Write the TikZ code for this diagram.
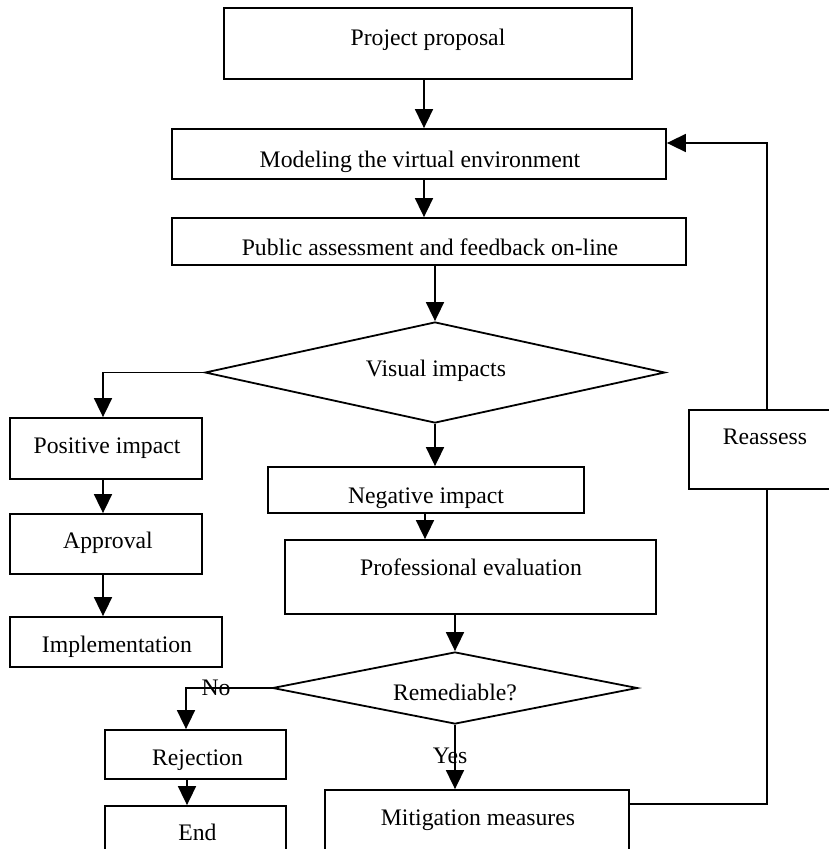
\documentclass[tikz,border=0pt]{standalone}
\usepackage{fontspec}
\setmainfont{Liberation Serif}
\usetikzlibrary{arrows.meta,shapes.geometric}

\begin{document}
\begin{tikzpicture}[
  x=1pt, y=-1pt,
  box/.style={draw, line width=1.8pt, rectangle, inner sep=0pt},
  choice/.style={draw, line width=1.8pt, diamond, inner sep=0pt},
  lbl/.style={inner sep=0pt, anchor=base, font=\fontsize{23.7}{28}\selectfont},
  link/.style={line width=1.7pt},
  arr/.style={line width=1.7pt, -{Triangle[width=18pt,length=19pt]}}
]
\useasboundingbox (0,0) rectangle (829,849);
\fill[white] (0,0) rectangle (829,849);
\clip (0,0) rectangle (829,849);

% process boxes
\node[box, minimum width=408, minimum height=71] (pp)   at (428,43.5)  {};
\node[box, minimum width=494, minimum height=50] (mod)  at (419,154)   {};
\node[box, minimum width=514, minimum height=47] (pub)  at (429,241.5) {};
\node[box, minimum width=192, minimum height=61] (pos)  at (106,448.5) {};
\node[box, minimum width=192, minimum height=60] (app)  at (106,544)   {};
\node[box, minimum width=212, minimum height=50] (impl) at (116,642)   {};
\node[box, minimum width=316, minimum height=46] (neg)  at (426,490)   {};
\node[box, minimum width=371, minimum height=74] (prof) at (470.5,577) {};
\node[box, minimum width=181, minimum height=49] (rej)  at (195.5,754.5) {};
\node[box, minimum width=181, minimum height=64] (fin)  at (195.5,838) {};
\node[box, minimum width=304, minimum height=80] (mit)  at (477,830)   {};
\node[box, minimum width=156, minimum height=79] (reas) at (767,449.5) {};

% decisions
\node[choice, minimum width=460, minimum height=101] (vis) at (435,372.5) {};
\node[choice, minimum width=365, minimum height=72]  (rem) at (455,688)   {};

% texts
\node[lbl] (t-pp)   at (428,45)  {Project proposal};
\node[lbl] (t-mod)  at (420,167) {Modeling the virtual environment};
\node[lbl] (t-pub)  at (430,255) {Public assessment and feedback on-line};
\node[lbl] (t-vis)  at (436,376) {Visual impacts};
\node[lbl] (t-pos)  at (107,453) {Positive impact};
\node[lbl] (t-app)  at (108,548) {Approval};
\node[lbl] (t-impl) at (117,652) {Implementation};
\node[lbl] (t-neg)  at (426,503) {Negative impact};
\node[lbl] (t-prof) at (471,575) {Professional evaluation};
\node[lbl] (t-reas) at (765,444) {Reassess};
\node[lbl] (t-rem)  at (455,700) {Remediable?};
\node[lbl] (t-rej)  at (197.5,765) {Rejection};
\node[lbl] (t-fin)  at (197.5,840) {End};
\node[lbl] (t-mit)  at (478,825) {Mitigation measures};

% connectors
\draw[arr] (424,0 |- pp.south) -- (424,0 |- mod.north);
\draw[arr] (424,0 |- mod.south) -- (424,0 |- pub.north);
\draw[arr] (vis.north |- pub.south) -- (vis.north);
\draw[arr] (vis.west) -| (103,0 |- pos.north);
\draw[arr] (vis.south) -- (vis.south |- neg.north);
\draw[arr] (425,0 |- neg.south) -- (425,0 |- prof.north);
\draw[arr] (rem.north |- prof.south) -- (rem.north);
\draw[arr] (103,0 |- pos.south) -- (103,0 |- app.north);
\draw[arr] (103,0 |- app.south) -- (103,0 |- impl.north);
\draw[arr] (rem.west) -| (186,0 |- rej.north);
\draw[arr] (187,0 |- rej.south) -- (187,0 |- fin.north);
\draw[arr] (rem.south) -- (rem.south |- mit.north);
\draw[link] (mit.east |- 0,804) -| (reas.south);
\draw[arr] (reas.north) |- (mod.east |- 0,143);

% branch labels
\node[lbl] (t-no)  at (216,695) {No};
\node[lbl] (t-yes) at (450,763) {Yes};
\end{tikzpicture}
\end{document}
